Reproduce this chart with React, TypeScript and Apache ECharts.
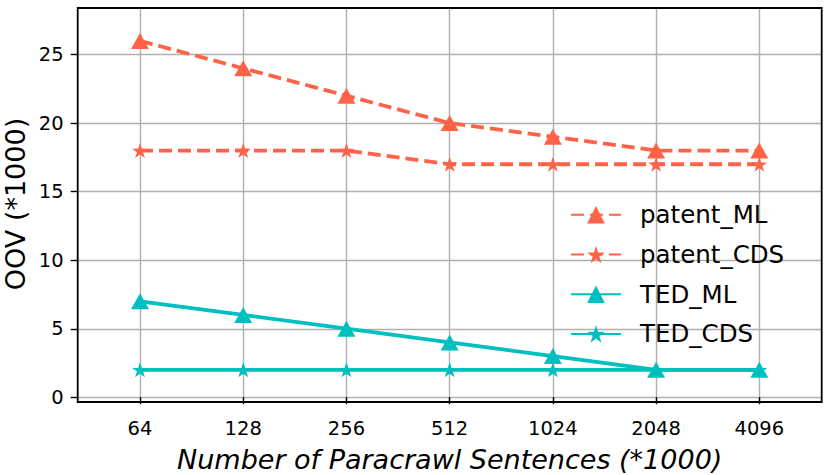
import React, { useEffect, useRef } from "react";
import * as echarts from "echarts";

const categories = ["64", "128", "256", "512", "1024", "2048", "4096"];
const patentML = [26, 24, 22, 20, 19, 18, 18];
const patentCDS = [18, 18, 18, 17, 17, 17, 17];
const tedML = [7, 6, 5, 4, 3, 2, 2];
const tedCDS = [2, 2, 2, 2, 2, 2, 2];
const seriesNames = ["patent_ML", "patent_CDS", "TED_ML", "TED_CDS"];

const STAR =
  "path://M100,0 L122.45,69.1 L195.11,69.1 L136.33,111.8 L158.78,180.9 L100,138.2 L41.22,180.9 L63.67,111.8 L4.89,69.1 L77.55,69.1 Z";

const ORANGE = "#ff6347";
const CYAN = "#00bfbf";
const GRIDC = "#b0b0b0";
const FONT = "DejaVu Sans";

// frame geometry
const L = 77.7;
const R = 821.7;
const T = 8;
const B = 402;
const W = 830;
const H = 475;

export default function App() {
  const ref = useRef<HTMLDivElement>(null);
  useEffect(() => {
    document.body.style.margin = "0";
    const chart = echarts.init(ref.current!, null, { renderer: "svg" });
    const mk = (
      name: string,
      data: number[],
      color: string,
      dashed: boolean,
      tri: boolean
    ) => ({
      name,
      type: "line",
      xAxisIndex: 1,
      yAxisIndex: 1,
      data,
      color,
      symbol: tri ? "triangle" : STAR,
      symbolSize: tri ? [18, 16] : [16, 15],
      showAllSymbol: true,
      clip: false,
      lineStyle: { color, width: 3.8, type: dashed ? [13, 6] : "solid" },
      itemStyle: { color },
      emphasis: { disabled: true },
    });
    chart.setOption({
      animation: false,
      grid: [
        { left: L, right: W - R, top: 54.7, bottom: H - 397.3 },
        { left: 140, right: W - 759.3, top: T, bottom: H - B },
      ],
      xAxis: [
        { gridIndex: 0, type: "value", min: 0, max: 1, show: false },
        {
          gridIndex: 1,
          type: "category",
          data: categories,
          boundaryGap: false,
          axisLine: { show: false },
          axisTick: { show: true, length: 7, lineStyle: { color: "#000", width: 1.4 } },
          axisLabel: { margin: 16, fontSize: 19.5, color: "#000", fontFamily: FONT },
          splitLine: { show: true, lineStyle: { color: GRIDC, width: 1.4 } },
        },
      ],
      yAxis: [
        {
          gridIndex: 0,
          type: "value",
          min: 0,
          max: 25,
          interval: 5,
          axisLine: { show: false },
          axisTick: { show: true, length: 7, lineStyle: { color: "#000", width: 1.4 } },
          axisLabel: { margin: 14, fontSize: 19.5, color: "#000", fontFamily: FONT },
          splitLine: { show: true, lineStyle: { color: GRIDC, width: 1.4 } },
        },
        {
          gridIndex: 1,
          type: "value",
          min: -0.35,
          max: 28.4,
          show: false,
          splitLine: { show: false },
        },
      ],
      legend: {
        orient: "vertical",
        left: 570,
        top: 202.3,
        data: seriesNames,
        itemWidth: 50,
        itemHeight: 22,
        itemGap: 14.7,
        padding: 0,
        selectedMode: false,
        textStyle: {
          fontSize: 24.5,
          color: "#000",
          fontFamily: FONT,
          padding: [0, 0, 0, 14],
        },
      },
      graphic: [
        {
          type: "rect",
          shape: { x: L, y: T, width: R - L, height: B - T },
          style: { fill: "none", stroke: "#000", lineWidth: 1.8 },
          z: 100,
          silent: true,
        },
        {
          type: "text",
          x: (L + R) / 2,
          y: 459,
          style: {
            text: "Number of Paracrawl Sentences (*1000)",
            fontSize: 27,
            fontStyle: "italic",
            fontFamily: FONT,
            fill: "#000",
            align: "center",
            verticalAlign: "middle",
          },
        },
        {
          type: "text",
          x: 15,
          y: 204,
          rotation: Math.PI / 2,
          style: {
            text: "OOV (*1000)",
            fontSize: 27,
            fontFamily: FONT,
            fill: "#000",
            align: "center",
            verticalAlign: "middle",
          },
        },
      ],
      series: [
        mk(seriesNames[0], patentML, ORANGE, true, true),
        mk(seriesNames[1], patentCDS, ORANGE, true, false),
        mk(seriesNames[2], tedML, CYAN, false, true),
        mk(seriesNames[3], tedCDS, CYAN, false, false),
      ],
    });
    return () => chart.dispose();
  }, []);
  return <div ref={ref} style={{ width: W, height: H }} />;
}
